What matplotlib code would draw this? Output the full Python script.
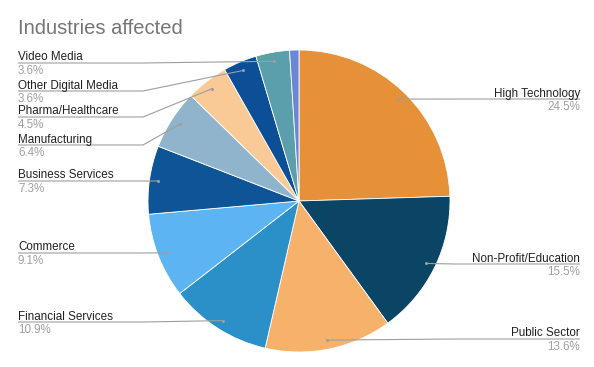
import numpy as np
import matplotlib
matplotlib.use('Agg')
import matplotlib.pyplot as plt

plt.rcParams['font.family'] = ['Liberation Sans', 'DejaVu Sans']

# data, clockwise from 12 o'clock
industries = ['High Technology', 'Non-Profit/Education', 'Public Sector', 'Financial Services',
	'Commerce', 'Business Services', 'Manufacturing', 'Pharma/Healthcare',
	'Other Digital Media', 'Video Media', 'Other']
shares = [24.5, 15.5, 13.6, 10.9, 9.1, 7.3, 6.4, 4.5, 3.6, 3.6, 1.0]
colors = ['#e69138', '#0b4566', '#f6b26b', '#2b8fc8', '#5cb5f2', '#0e5598',
	'#8fb4cb', '#f9c996', '#0d4f96', '#5c9fac', '#6a86d6']
show_label = [True] * 10 + [False]

# label line heights (pixels from top) and which side
label_y = [99, 264, 339, 322, 253, 181, 145, 117, 91, 63, None]
label_side = ['r', 'r', 'r', 'l', 'l', 'l', 'l', 'l', 'l', 'l', None]

W, H = 594, 367
cx, cy, R = 299, H - 201, 151

fig = plt.figure(figsize=(W / 100, H / 100), dpi=100)
ax = fig.add_axes([0, 0, 1, 1])

wedges, _ = ax.pie(shares, colors=colors, startangle=90, counterclock=False,
	center=(cx, cy), radius=R, wedgeprops=dict(edgecolor='white', linewidth=0.6))
ax.set_aspect('equal')
ax.set_xlim(0, W)
ax.set_ylim(0, H)
ax.axis('off')

fig.text(18 / W, 1 - 28 / H, 'Industries affected', fontsize=14.5, color='#757575', va='center')

line_col = '#9e9e9e'
for i in range(len(shares)):
	if not show_label[i]:
		continue
	w = wedges[i]
	mid = np.deg2rad((w.theta1 + w.theta2) / 2)
	px = cx + 0.94 * R * np.cos(mid)
	py = cy + 0.94 * R * np.sin(mid)
	ly = H - label_y[i]
	if label_side[i] == 'l':
		tx, elbow, ha = 18, 143, 'left'
		xs = [tx, min(elbow, px), px]
	else:
		tx, elbow, ha = 580, 455, 'right'
		xs = [tx, max(elbow, px), px]
	ax.plot(xs, [ly, ly, py], color=line_col, lw=0.8, solid_capstyle='butt')
	ax.plot(px, py, 'o', color=line_col, ms=2.2, mec='none')
	ax.text(tx, ly + 2.5, industries[i], ha=ha, va='baseline', fontsize=8.4, color='#222222')
	ax.text(tx, ly - 11, '%.1f%%' % shares[i], ha=ha, va='baseline', fontsize=8.4, color='#a0a0a0')

fig.savefig('out.png', dpi=100)
